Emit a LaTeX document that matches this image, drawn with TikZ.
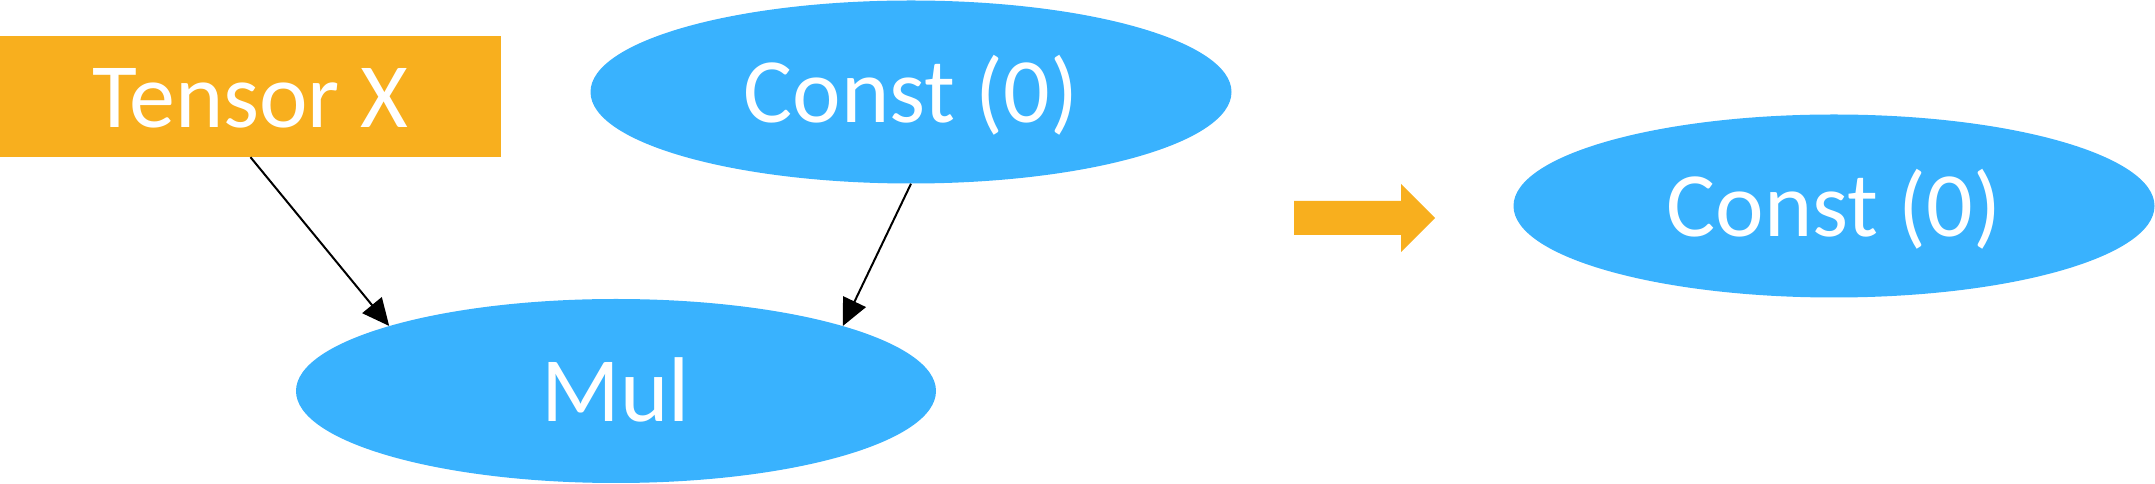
\documentclass[tikz,border=0pt]{standalone}
\usepackage{fontspec}
\setmainfont{Carlito}
\usetikzlibrary{arrows.meta,shapes.geometric}
\definecolor{nodeorange}{RGB}{248,175,30}
\definecolor{nodeblue}{RGB}{57,178,254}
\tikzset{
  lbl/.style={text=white, font=\fontsize{92}{100}\selectfont, inner sep=0pt,
              text height=62pt, text depth=0pt},
  tensorbox/.style={lbl, rectangle, fill=nodeorange, minimum width=501pt, minimum height=121pt},
  opnode/.style={lbl, ellipse, fill=nodeblue, minimum width=641pt, minimum height=183pt},
  edge/.style={line width=2pt, -{Triangle[length=27pt,width=25pt]}},
}
\begin{document}
\begin{tikzpicture}[x=1pt,y=1pt]
\useasboundingbox (0,0) rectangle (2155,484);
\node[tensorbox] (tx) at (250.5,387.5) {Tensor X};
\node[opnode] (c0) at (911,392) {Const (0)};
\node[opnode, minimum width=640pt, minimum height=184pt] (mul) at (616,93) {Mul};
\node[opnode] (c1) at (1834,278) {Const (0)};
\draw[edge] (tx.south) -- (mul.164);
\draw[edge] (c0.south) -- (mul.16);
\fill[nodeorange] (1294,249) -- (1401,249) -- (1401,232) -- (1435,266)
  -- (1401,300) -- (1401,283) -- (1294,283) -- cycle;
\end{tikzpicture}
\end{document}
